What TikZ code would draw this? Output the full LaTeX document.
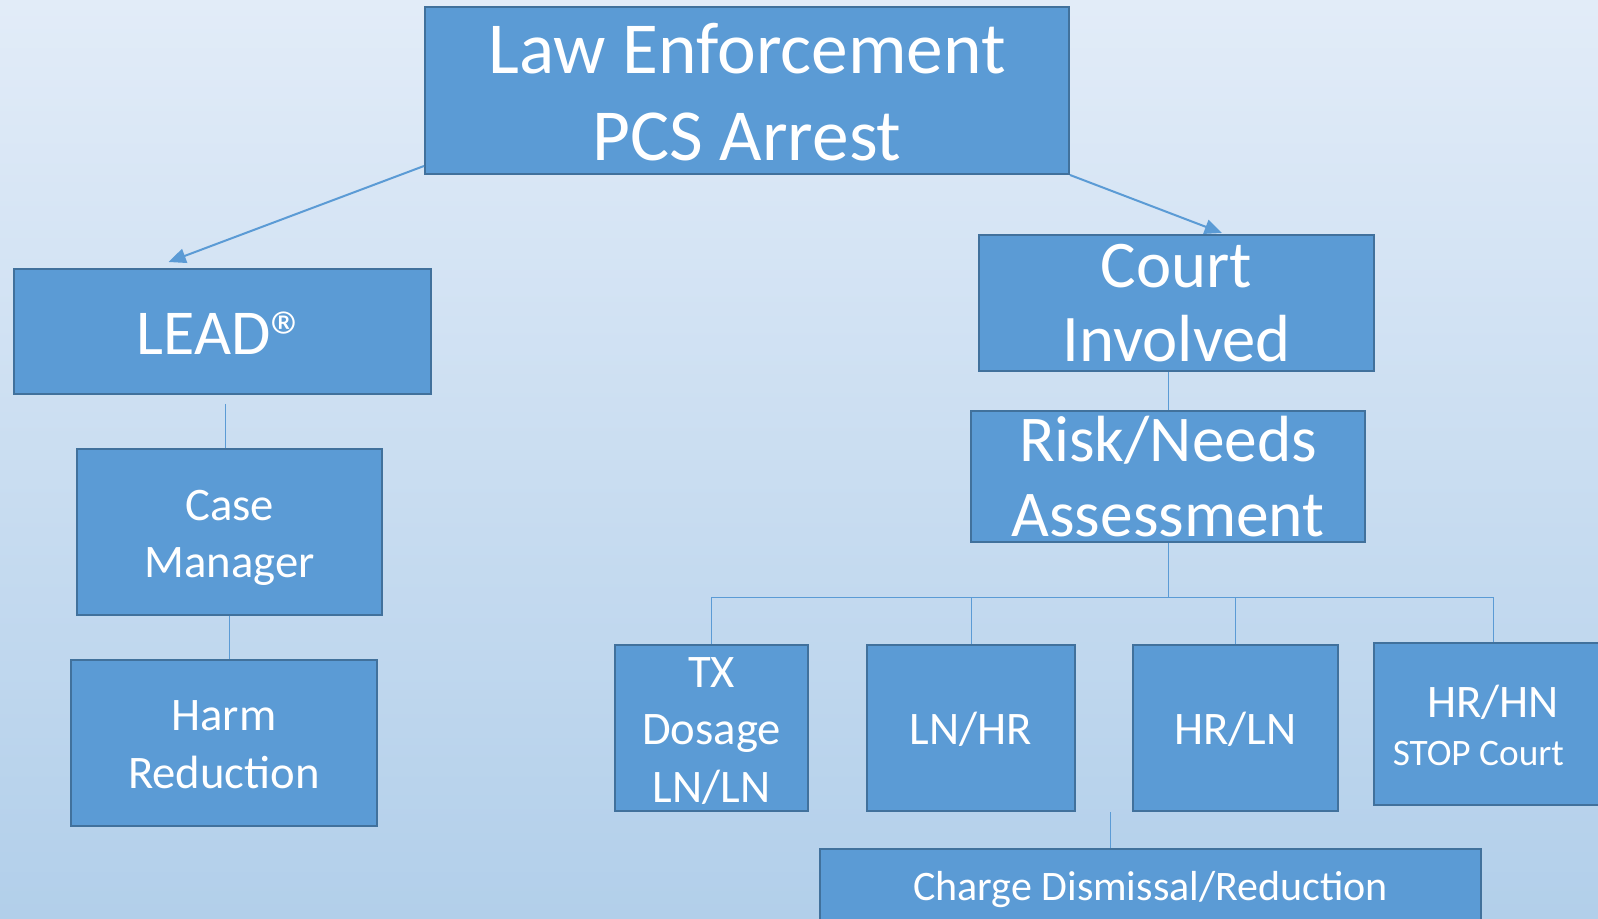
\documentclass[tikz,border=0pt]{standalone}
\usepackage{fontspec}
\setmainfont{Carlito}
\usepackage{tikz}
\usetikzlibrary{calc,arrows.meta}
\definecolor{boxfill}{RGB}{91,155,213}
\definecolor{boxline}{RGB}{65,113,156}
\definecolor{bgtop}{RGB}{226,236,248}
\definecolor{bgbot}{RGB}{178,207,234}
\newcommand{\tstrut}{\rule[-0.18em]{0pt}{1.08em}}
\tikzset{
	bluebox/.style={draw=boxline,fill=boxfill,line width=1.5pt,text=white,align=center,inner sep=0pt},
	link/.style={draw=boxfill,line width=1.5pt,-{Triangle[length=13pt,width=11pt]}},
	tree/.style={draw=boxfill,line width=0.75pt}
}

\begin{document}
\begin{tikzpicture}[x=0.75pt,y=-0.75pt]
		\shade[top color=bgtop,bottom color=bgbot] (0,0) rectangle (1598,919);
		\useasboundingbox (0,0) rectangle (1598,919);
		% top of the tree
		\node[bluebox,minimum width=483pt,minimum height=125.25pt,font=\fontsize{55}{65}\selectfont] (law) at (747,90.5) {\tstrut Law Enforcement\\PCS Arrest\tstrut};
		% left branch
		\node[bluebox,minimum width=312.75pt,minimum height=93.75pt,font=\fontsize{48}{56}\selectfont] (lead) at (222.5,331.5) {\tstrut LEAD\raisebox{-6pt}{\fontsize{55}{55}\selectfont ®}};
		\node[bluebox,minimum width=228.75pt,minimum height=124.5pt,font=\fontsize{35}{43}\selectfont] (case) at (229.5,532) {\tstrut Case\\Manager\tstrut};
		\node[bluebox,minimum width=229.5pt,minimum height=124.5pt,font=\fontsize{35}{43.5}\selectfont] (harm) at (224,743) {\tstrut Harm\\Reduction\tstrut};
		% right branch
		\node[bluebox,minimum width=296.25pt,minimum height=102pt,font=\fontsize{50}{56}\selectfont] (court) at (1176.5,303) {Court\\Involved};
		\node[bluebox,minimum width=295.5pt,minimum height=98.25pt,font=\fontsize{49}{56}\selectfont] (risk) at (1168,476.5) {Risk/Needs\\Assessment};
		\node[bluebox,minimum width=144.75pt,minimum height=124.5pt,font=\fontsize{35}{43}\selectfont] (tx) at (711.5,728) {\tstrut TX\\Dosage\\LN/LN\tstrut};
		\node[bluebox,minimum width=156pt,minimum height=124.5pt,font=\fontsize{35}{43}\selectfont] (lnhr) at (971,728) {\tstrut LN/HR};
		\node[bluebox,minimum width=153.75pt,minimum height=124.5pt,font=\fontsize{35}{43}\selectfont] (hrln) at (1235.5,728) {\tstrut HR/LN};
		\node[bluebox,minimum width=178.5pt,minimum height=121.5pt,font=\fontsize{35}{36}\selectfont] (hrhn) at (1493,724) {\tstrut HR/HN\\{\fontsize{28}{34}\selectfont STOP Court\hspace*{22pt}\tstrut}};
		\node[bluebox,minimum width=495.75pt,minimum height=54pt,font=\fontsize{31.5}{38}\selectfont] (charge) at (1150.5,885) {\tstrut Charge Dismissal/Reduction};
		% arrows from the arrest
		\draw[link] ($(law.south west)+(0,-9)$) -- ($(lead.north)+(-54,-6)$);
		\draw[link] (law.south east) -- ($(court.north)+(45.5,-1)$);
		% plain lines
		\draw[tree] ($(lead.south)+(2.5,9)$) -- ($(case.north)+(-4.5,0)$);
		\draw[tree] (case.south) -- (case.south |- harm.north);
		\draw[tree] (risk.north |- court.south) -- (risk.north);
		\draw[tree] (risk.south) -- ++(0,54) coordinate (bus);
		\draw[tree] (tx.north) |- (hrhn.north |- bus) -- (hrhn.north);
		\foreach \n in {lnhr,hrln}{
			\draw[tree] (\n.north) -- (\n.north |- bus);
		}
		\coordinate (drop) at (1110,812);
		\draw[tree] (drop) -- (drop |- charge.north);
	\end{tikzpicture}
\end{document}
